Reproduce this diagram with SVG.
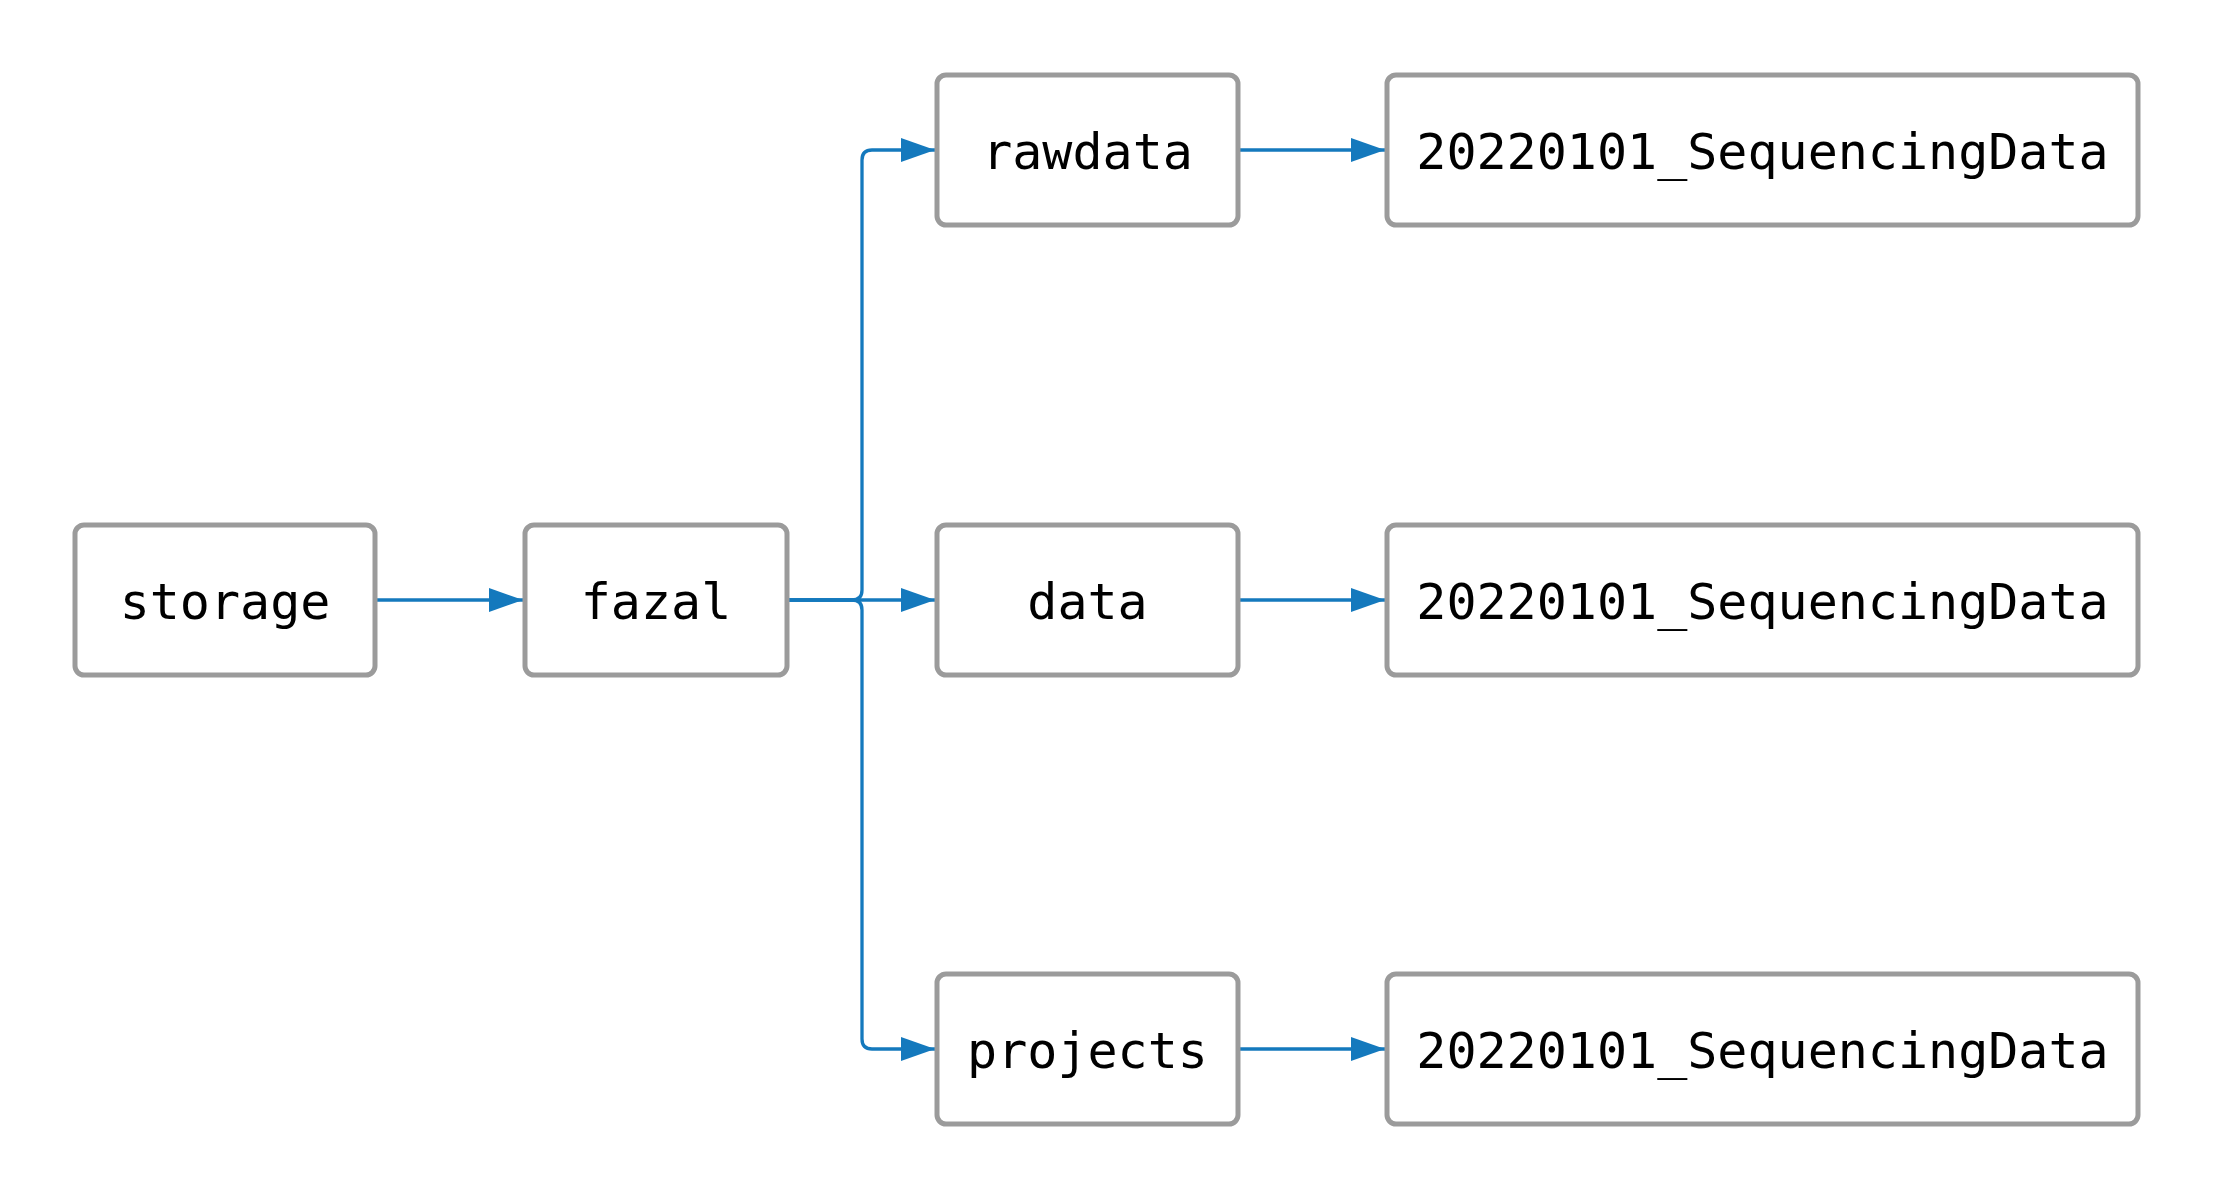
<svg xmlns="http://www.w3.org/2000/svg" width="2213" height="1200" viewBox="0 0 2213 1200">
<style>
.box{fill:#fff;stroke:#9b9b9b;stroke-width:5}
.lbl{font-family:"DejaVu Sans Mono","Liberation Mono",monospace;font-size:50px;fill:#000;text-anchor:middle}
.edge{fill:none;stroke:#1479bd;stroke-width:3.3}
</style>
<defs>
<marker id="ah" markerUnits="userSpaceOnUse" markerWidth="34" markerHeight="24" refX="34" refY="12" orient="auto">
<path d="M0,0 L34,12 L0,24 Z" fill="#1479bd"/>
</marker>
</defs>
<rect width="2213" height="1200" fill="#fff"/>
<g id="connectors">
<path class="edge" marker-end="url(#ah)" d="M377,600 H523"/>
<path class="edge" marker-end="url(#ah)" d="M789,600 H935"/>
<path class="edge" marker-end="url(#ah)" d="M789,600 H852 Q862,600 862,590 V160 Q862,150 872,150 H935"/>
<path class="edge" marker-end="url(#ah)" d="M789,600 H852 Q862,600 862,610 V1039 Q862,1049 872,1049 H935"/>
<path class="edge" marker-end="url(#ah)" d="M1240,150 H1385"/>
<path class="edge" marker-end="url(#ah)" d="M1240,600 H1385"/>
<path class="edge" marker-end="url(#ah)" d="M1240,1049 H1385"/>
</g>
<g id="storage"><rect class="box" x="75" y="525" width="300" height="150" rx="9"/><text class="lbl" x="225" y="619">storage</text></g>
<g id="fazal"><rect class="box" x="525" y="525" width="262" height="150" rx="9"/><text class="lbl" x="656" y="619">fazal</text></g>
<g id="rawdata"><rect class="box" x="937" y="75" width="301" height="150" rx="9"/><text class="lbl" x="1087.5" y="169">rawdata</text></g>
<g id="data"><rect class="box" x="937" y="525" width="301" height="150" rx="9"/><text class="lbl" x="1087.5" y="619">data</text></g>
<g id="projects"><rect class="box" x="937" y="974" width="301" height="150" rx="9"/><text class="lbl" x="1087.5" y="1068">projects</text></g>
<g id="seq_raw"><rect class="box" x="1387" y="75" width="751" height="150" rx="9"/><text class="lbl" x="1762.5" y="169">20220101_SequencingData</text></g>
<g id="seq_data"><rect class="box" x="1387" y="525" width="751" height="150" rx="9"/><text class="lbl" x="1762.5" y="619">20220101_SequencingData</text></g>
<g id="seq_projects"><rect class="box" x="1387" y="974" width="751" height="150" rx="9"/><text class="lbl" x="1762.5" y="1068">20220101_SequencingData</text></g>
</svg>
